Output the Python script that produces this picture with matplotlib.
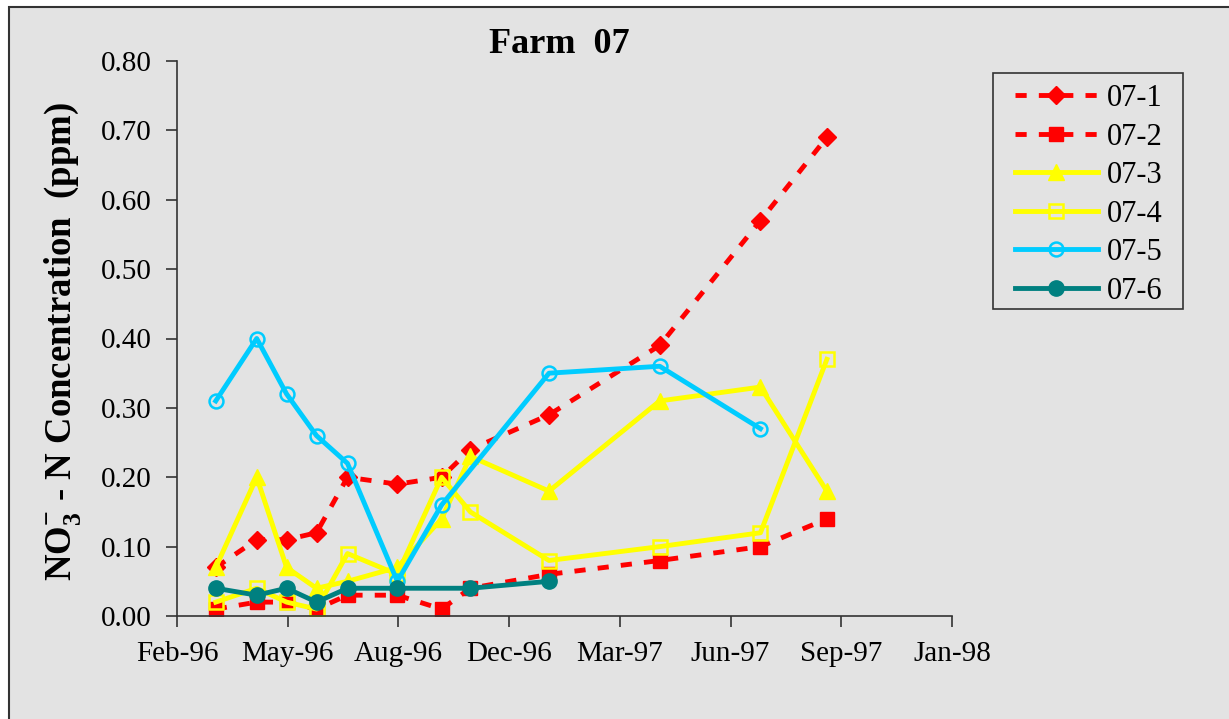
import matplotlib
matplotlib.use('Agg')
import matplotlib.pyplot as plt
import matplotlib.dates as mdates
import numpy as np
from matplotlib.patches import Rectangle

plt.rcParams['font.family'] = ['Liberation Serif', 'DejaVu Serif']
plt.rcParams['mathtext.fontset'] = 'custom'
plt.rcParams['mathtext.rm'] = 'Liberation Serif'
plt.rcParams['mathtext.bf'] = 'Liberation Serif:bold'

# sampling dates
dates = np.array(['1996-03-12', '1996-04-18', '1996-05-15', '1996-06-11', '1996-07-09',
                  '1996-08-23', '1996-10-02', '1996-10-28', '1997-01-07', '1997-04-17',
                  '1997-07-17', '1997-09-15'], dtype='datetime64[D]')

s07_1 = [0.07, 0.11, 0.11, 0.12, 0.20, 0.19, 0.20, 0.24, 0.29, 0.39, 0.57, 0.69]
s07_2 = [0.01, 0.02, 0.02, 0.01, 0.03, 0.03, 0.01, 0.04, 0.06, 0.08, 0.10, 0.14]
s07_3 = [0.07, 0.20, 0.07, 0.04, 0.05, 0.07, 0.14, 0.23, 0.18, 0.31, 0.33, 0.18]
s07_4 = [0.02, 0.04, 0.02, 0.01, 0.09, 0.06, 0.20, 0.15, 0.08, 0.10, 0.12, 0.37]
# 07-5 and 07-6 have missing samples
s07_5 = [0.31, 0.40, 0.32, 0.26, 0.22, 0.05, 0.16, np.nan, 0.35, 0.36, 0.27, np.nan]
s07_6 = [0.04, 0.03, 0.04, 0.02, 0.04, 0.04, np.nan, 0.04, 0.05, np.nan, np.nan, np.nan]

x_start = np.datetime64('1996-02-06')
step = 100  # days between x ticks

bg = '#E3E3E3'
fig = plt.figure(figsize=(12.29, 7.19), dpi=100, facecolor='white')
fig.patches.append(Rectangle((9/1229, -0.05), 1.1, 1 - 7/719 + 0.05, transform=fig.transFigure,
                             facecolor=bg, edgecolor='#333333', linewidth=1.5, zorder=-10))
# legend box drawn by hand (Excel pads wider left/right than top/bottom)
fig.patches.append(Rectangle((993/1229, 1 - 309/719), 190/1229, 236/719, transform=fig.transFigure,
                             facecolor='none', edgecolor='#333333', linewidth=1.2, zorder=5))
ax = fig.add_axes([177/1229, 1 - 616/719, 775/1229, 555/719])
ax.set_facecolor(bg)
ax.set_zorder(1)

dash = (0, (2.3, 2.5))
lw = 3.5

def plot_series(y, **kw):
    y = np.array(y, dtype=float)
    m = ~np.isnan(y)
    return ax.plot(dates[m], y[m], **kw)

plot_series(s07_1, color='red', lw=lw, ls=dash, marker='D', ms=9, mec='red', mfc='red', label='07-1')
plot_series(s07_2, color='red', lw=lw, ls=dash, marker='s', ms=10, mec='red', mfc='red', label='07-2')
plot_series(s07_3, color='yellow', lw=lw, marker='^', ms=11, mec='yellow', mfc='yellow', label='07-3')
plot_series(s07_4, color='yellow', lw=lw, marker='s', ms=10, mec='yellow', mfc='none', mew=1.8, label='07-4')
plot_series(s07_5, color='#00CCFF', lw=lw, marker='o', ms=10, mec='#00CCFF', mfc='none', mew=1.8, label='07-5')
plot_series(s07_6, color='#008080', lw=lw, marker='o', ms=11, mec='#008080', mfc='#008080', label='07-6')

ax.set_xlim(x_start, x_start + np.timedelta64(7 * step, 'D'))
ax.set_xticks([x_start + np.timedelta64(k * step, 'D') for k in range(8)])
ax.xaxis.set_major_formatter(mdates.DateFormatter('%b-%y'))
ax.set_ylim(0, 0.8)
ax.set_yticks(np.arange(0, 0.81, 0.1))
ax.yaxis.set_major_formatter(matplotlib.ticker.FormatStrFormatter('%.2f'))
ax.tick_params(labelsize=21, length=8, width=1.2, color='#333333', pad=10)

for s in ['top', 'right']:
    ax.spines[s].set_visible(False)
for s in ['left', 'bottom']:
    ax.spines[s].set_color('#333333')
    ax.spines[s].set_linewidth(1.2)

ax.set_title('Farm  07', fontsize=26, fontweight='bold', pad=6, x=0.493)
fig.text(63/1229, 1 - 342/719, r'NO$_\mathbf{3}^{\mathbf{-}}$ - N Concentration  (ppm)',
         rotation=90, fontsize=26.5, fontweight='bold', ha='center', va='center')

leg = ax.legend(loc='upper left', bbox_to_anchor=(1006/1229, 1 - 75/719), bbox_transform=fig.transFigure,
                fontsize=22, frameon=False, handlelength=2.7, borderpad=0.3, borderaxespad=0,
                labelspacing=0.31, handletextpad=0.3)

fig.savefig('out.png', dpi=100, facecolor=fig.get_facecolor())
